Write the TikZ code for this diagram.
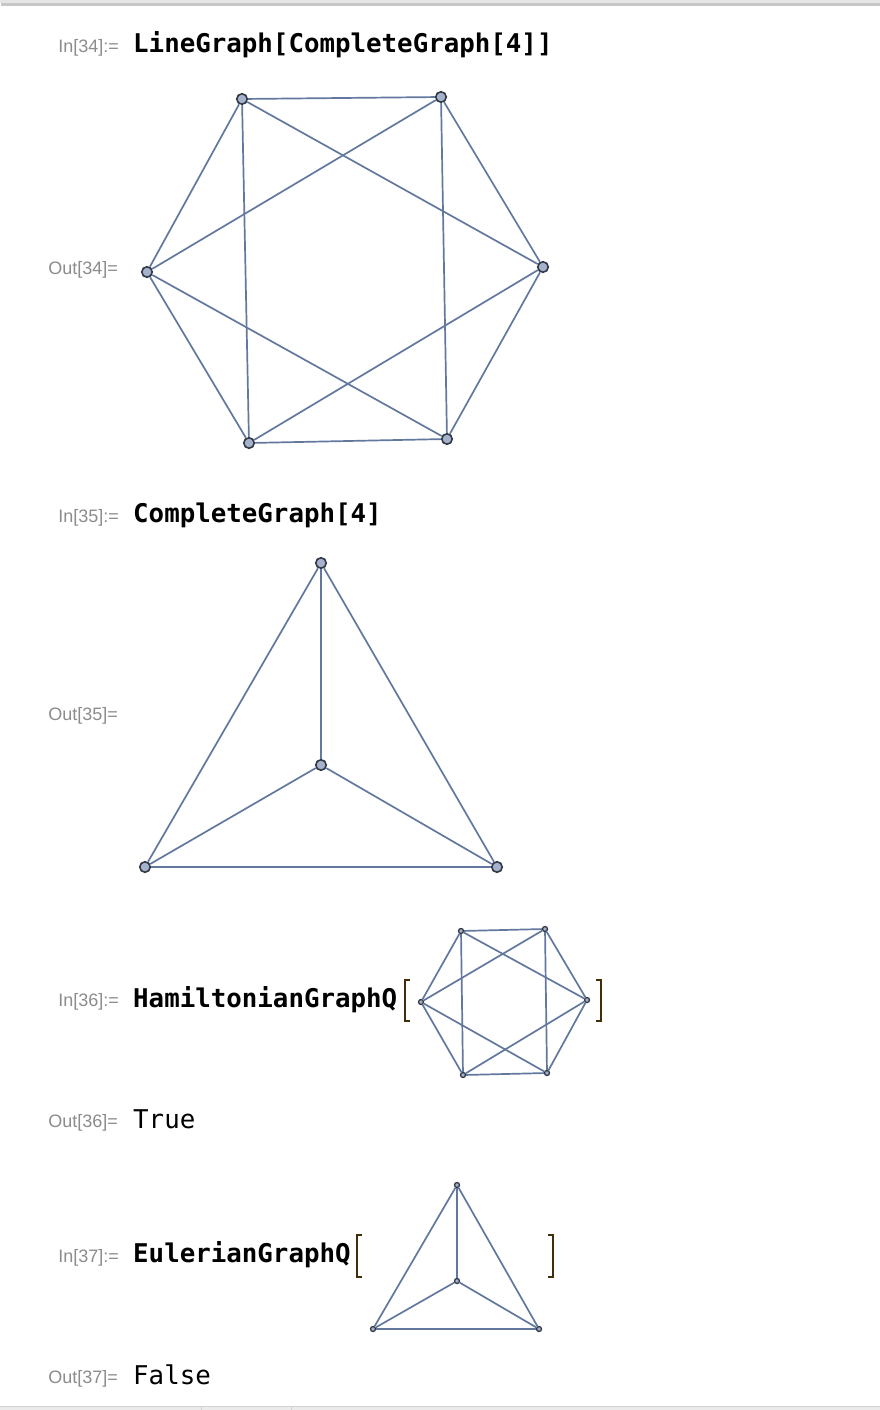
\documentclass[tikz,border=0pt]{standalone}
\usepackage{fontspec}
\setmainfont{Liberation Sans}
\newfontfamily\codefont{DejaVu Sans Mono}
\usepackage{tikz}
\usetikzlibrary{positioning}

\definecolor{edgecol}{RGB}{98,120,158}
\definecolor{vfill}{RGB}{164,178,203}
\definecolor{vdraw}{RGB}{50,56,68}
\definecolor{labelgray}{RGB}{140,140,140}
\definecolor{brackcol}{RGB}{70,45,10}

\begin{document}
\begin{tikzpicture}[x=1pt,y=1pt]
\tikzstyle{every node}+=[inner sep=0pt]
\tikzstyle{vertex}=[circle,fill=vfill,draw=vdraw,line width=1.6pt,minimum size=10.5pt]
\tikzstyle{dot}=[circle,fill=vfill,draw=vdraw,line width=1.3pt,minimum size=5pt]
\tikzstyle{link}=[edgecol,line width=1.7pt]
\tikzstyle{inlabel}=[anchor=base east,text=labelgray,font=\fontsize{18}{20}\selectfont]
\tikzstyle{code}=[anchor=base west,font=\codefont\bfseries\fontsize{25.8}{28}\selectfont]
\tikzstyle{result}=[anchor=base west,font=\codefont\fontsize{25.8}{28}\selectfont]
\tikzstyle{brack}=[brackcol,line width=2.4pt]
\fill [white] (0,0) rectangle (880,-1410);
\useasboundingbox (0,0) rectangle (880,-1410);
% notebook frame
\fill [black!10] (0,0) rectangle (880,-3);
\fill [black!22] (1,-3) rectangle (880,-6);
\fill [black!8] (0,-1407) rectangle (880,-1410);
\draw [black!18,line width=1.2pt] (0,-1406.5) -- (880,-1406.5);
\draw [black!18] (201,-1407) -- (201,-1410);
\draw [black!18] (291,-1407) -- (291,-1410);
% In[34]
\node [inlabel] (in34) at (119,-53) {In[34]:=};
\node [code] (c34) at (133,-53) {LineGraph[CompleteGraph[4]]};
\node [inlabel] (out34) at (118,-274) {Out[34]=};
\node [vertex] (l1) at (242,-99) {};
\node [vertex] (l2) at (441,-97) {};
\node [vertex] (l3) at (543,-267) {};
\node [vertex] (l4) at (447,-439) {};
\node [vertex] (l5) at (249,-443) {};
\node [vertex] (l6) at (147,-272) {};
\draw [link] (l1) -- (l2);
\draw [link] (l1) -- (l3);
\draw [link] (l1) -- (l5);
\draw [link] (l1) -- (l6);
\draw [link] (l2) -- (l3);
\draw [link] (l2) -- (l4);
\draw [link] (l2) -- (l6);
\draw [link] (l3) -- (l4);
\draw [link] (l3) -- (l5);
\draw [link] (l4) -- (l5);
\draw [link] (l4) -- (l6);
\draw [link] (l5) -- (l6);
% In[35]
\node [inlabel] (in35) at (119,-522) {In[35]:=};
\node [code] (c35) at (133,-522) {CompleteGraph[4]};
\node [inlabel] (out35) at (118,-720) {Out[35]=};
\node [vertex] (k1) at (321,-563) {};
\node [vertex] (k2) at (321,-765) {};
\node [vertex] (k3) at (145,-867) {};
\node [vertex] (k4) at (497,-867) {};
\draw [link] (k1) -- (k2);
\draw [link] (k1) -- (k3);
\draw [link] (k1) -- (k4);
\draw [link] (k2) -- (k3);
\draw [link] (k2) -- (k4);
\draw [link] (k3) -- (k4);
% In[36]
\node [inlabel] (in36) at (119,-1006) {In[36]:=};
\node [code] (c36) at (133,-1007) {HamiltonianGraphQ};
\draw [brack] (410,-980) -- (405,-980) -- (405,-1021) -- (410,-1021);
\draw [brack] (596,-980) -- (601,-980) -- (601,-1021) -- (596,-1021);
\node [dot] (h1) at (461,-931) {};
\node [dot] (h2) at (545,-929) {};
\node [dot] (h3) at (587,-1000) {};
\node [dot] (h4) at (547,-1073) {};
\node [dot] (h5) at (463,-1075) {};
\node [dot] (h6) at (421,-1002) {};
\draw [link] (h1) -- (h2);
\draw [link] (h1) -- (h3);
\draw [link] (h1) -- (h5);
\draw [link] (h1) -- (h6);
\draw [link] (h2) -- (h3);
\draw [link] (h2) -- (h4);
\draw [link] (h2) -- (h6);
\draw [link] (h3) -- (h4);
\draw [link] (h3) -- (h5);
\draw [link] (h4) -- (h5);
\draw [link] (h4) -- (h6);
\draw [link] (h5) -- (h6);
\node [inlabel] (out36) at (118,-1127) {Out[36]=};
\node [result] (r36) at (133,-1128) {True};
% In[37]
\node [inlabel] (in37) at (119,-1262) {In[37]:=};
\node [code] (c37) at (133,-1262) {EulerianGraphQ};
\draw [brack] (362,-1235) -- (357,-1235) -- (357,-1277) -- (362,-1277);
\draw [brack] (548,-1235) -- (553,-1235) -- (553,-1277) -- (548,-1277);
\node [dot] (e1) at (457,-1185) {};
\node [dot] (e2) at (457,-1281) {};
\node [dot] (e3) at (373,-1329) {};
\node [dot] (e4) at (539,-1329) {};
\draw [link] (e1) -- (e2);
\draw [link] (e1) -- (e3);
\draw [link] (e1) -- (e4);
\draw [link] (e2) -- (e3);
\draw [link] (e2) -- (e4);
\draw [link] (e3) -- (e4);
\node [inlabel] (out37) at (118,-1383) {Out[37]=};
\node [result] (r37) at (133,-1384) {False};
\end{tikzpicture}
\end{document}
